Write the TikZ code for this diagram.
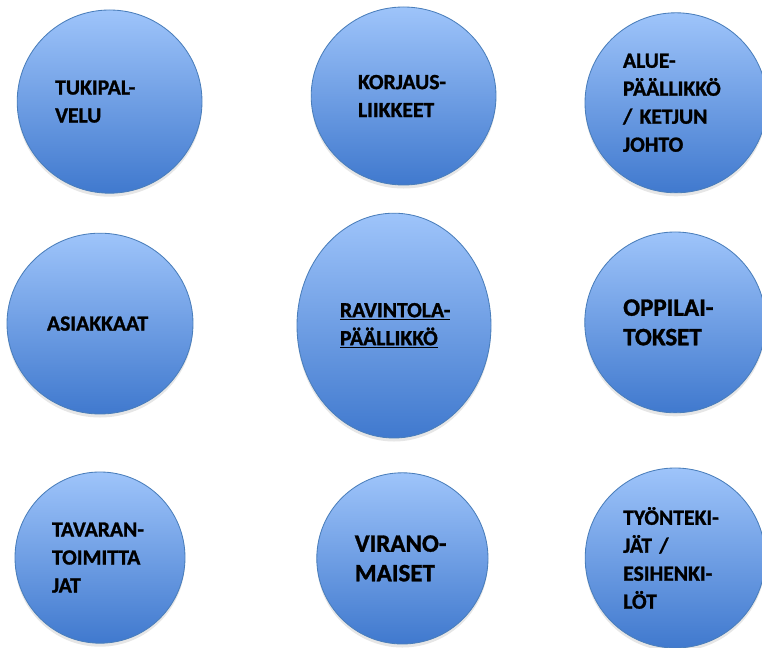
\documentclass[tikz,border=0pt]{standalone}
\usepackage{fontspec}
\setmainfont{Carlito}[BoldFont={Carlito Bold}, BoldFeatures={FakeBold=1.2}]
\usetikzlibrary{shapes.geometric,shadows}

\definecolor{bubbletop}{RGB}{158,196,250}
\definecolor{bubblebottom}{RGB}{64,121,206}
\definecolor{bubbleline}{RGB}{74,126,187}

\tikzset{
    bubble/.style={
        draw=bubbleline,
        line width=0.6pt,
        ellipse,
        top color=bubbletop,
        bottom color=bubblebottom,
        align=left,
        inner sep=0pt,
        font=\fontsize{15.4}{19.9}\selectfont\bfseries,
        drop shadow={shadow xshift=0pt, shadow yshift=-2.5pt, opacity=0.2}
    },
    bigtext/.style={font=\fontsize{17.8}{21}\selectfont\bfseries}
}

\begin{document}
\begin{tikzpicture}
        \clip (0cm,0cm) rectangle (19.05cm,16.2cm);

        % top row
        \node[bubble,
        minimum width = 4.62cm,
        minimum height = 4.58cm,
        text width = 2.72cm
        ](tuki) at (2.74cm,13.66cm) {TUKIPAL-\\VELU};

        \node[bubble,
        minimum width = 4.62cm,
        minimum height = 4.45cm,
        text width = 2.28cm
        ](korjaus) at (10.09cm,13.8cm) {KORJAUS-\\LIIKKEET};

        \node[bubble,
        minimum width = 4.55cm,
        minimum height = 4.5cm,
        text width = 2.65cm
        ](alue) at (16.9cm,13.63cm) {ALUE-\\PÄÄLLIKKÖ\\/ KETJUN\\JOHTO};

        % middle row
        \node[bubble,
        minimum width = 4.65cm,
        minimum height = 4.52cm,
        text width = 2.65cm
        ](asiakkaat) at (2.5cm,8.11cm) {ASIAKKAAT};

        \node[bubble,
        minimum width = 4.85cm,
        minimum height = 5.62cm,
        text width = 2.7cm
        ](ravintola) at (9.85cm,8.06cm) {\underline{RAVINTOLA-}\\\underline{PÄÄLLIKKÖ}};

        \node[bubble,
        bigtext,
        minimum width = 4.52cm,
        minimum height = 4.52cm,
        text width = 2.6cm
        ](oppilaitokset) at (16.88cm,8.14cm) {OPPILAI-\\TOKSET};

        % bottom row
        \node[bubble,
        minimum width = 4.25cm,
        minimum height = 4.28cm,
        text width = 2.4cm
        ](tavaran) at (2.5cm,2.26cm) {TAVARAN-\\TOIMITTA\\JAT};

        \node[bubble,
        bigtext,
        minimum width = 4.28cm,
        minimum height = 4.28cm,
        text width = 2.38cm
        ](viranomaiset) at (10.06cm,2.24cm) {VIRANO-\\MAISET};

        \node[bubble,
        minimum width = 4.5cm,
        minimum height = 4.5cm,
        text width = 2.6cm
        ](tyontekijat) at (16.88cm,2.25cm) {TYÖNTEKI-\\JÄT /\\ESIHENKI-\\LÖT};

    \end{tikzpicture}
\end{document}
